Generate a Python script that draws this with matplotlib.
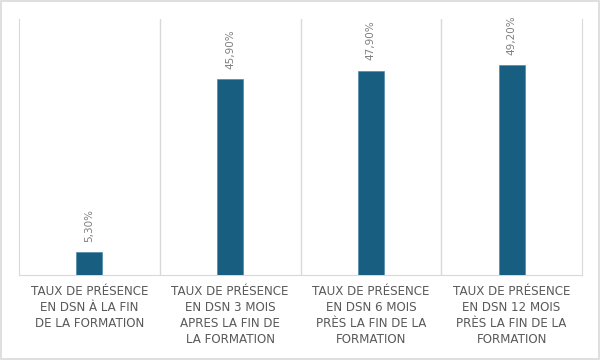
import matplotlib
matplotlib.use("Agg")
import matplotlib.pyplot as plt
from matplotlib.patches import Rectangle

categories = [
    "TAUX DE PRÉSENCE\nEN DSN À LA FIN\nDE LA FORMATION",
    "TAUX DE PRÉSENCE\nEN DSN 3 MOIS\nAPRES LA FIN DE\nLA FORMATION",
    "TAUX DE PRÉSENCE\nEN DSN 6 MOIS\nPRÈS LA FIN DE LA\nFORMATION",
    "TAUX DE PRÉSENCE\nEN DSN 12 MOIS\nPRÈS LA FIN DE LA\nFORMATION",
]
values = [5.30, 45.90, 47.90, 49.20]
value_labels = ["5,30%", "45,90%", "47,90%", "49,20%"]

bar_color = "#175e80"
grid_color = "#d9d9d9"
text_color = "#595959"
label_color = "#7f7f7f"

fig = plt.figure(figsize=(6, 3.6), dpi=100)
fig.patches.append(Rectangle((0.002, 0.003), 0.996, 0.994, transform=fig.transFigure,
                             fill=False, edgecolor="#d9d9d9", linewidth=1.2))
ax = fig.add_axes([19/600, 1-275/360, (582-19)/600, (275-19)/360])

x = list(range(len(values)))
ax.bar(x, values, width=0.185, color=bar_color, edgecolor="#4d8bab", linewidth=0.5, zorder=3)
ax.set_xlim(-0.5, len(values) - 0.5)
ax.set_ylim(0, 60)

for xi, v, lab in zip(x, values, value_labels):
    ax.annotate(lab, (xi, v), xytext=(0, 7.5), textcoords="offset points",
                rotation=90, ha="center", va="bottom", color=label_color, fontsize=7.5)

for b in [0.5, 1.5, 2.5]:
    ax.axvline(b, color=grid_color, linewidth=1, zorder=1)

ax.spines["top"].set_visible(False)
for s in ["left", "right", "bottom"]:
    ax.spines[s].set_color(grid_color)
ax.set_yticks([])
ax.set_xticks(x)
ax.set_xticklabels(categories, fontsize=8.6, color=text_color, linespacing=1.3)
ax.tick_params(axis="x", length=0, pad=7)

fig.savefig("out.png", dpi=100)
